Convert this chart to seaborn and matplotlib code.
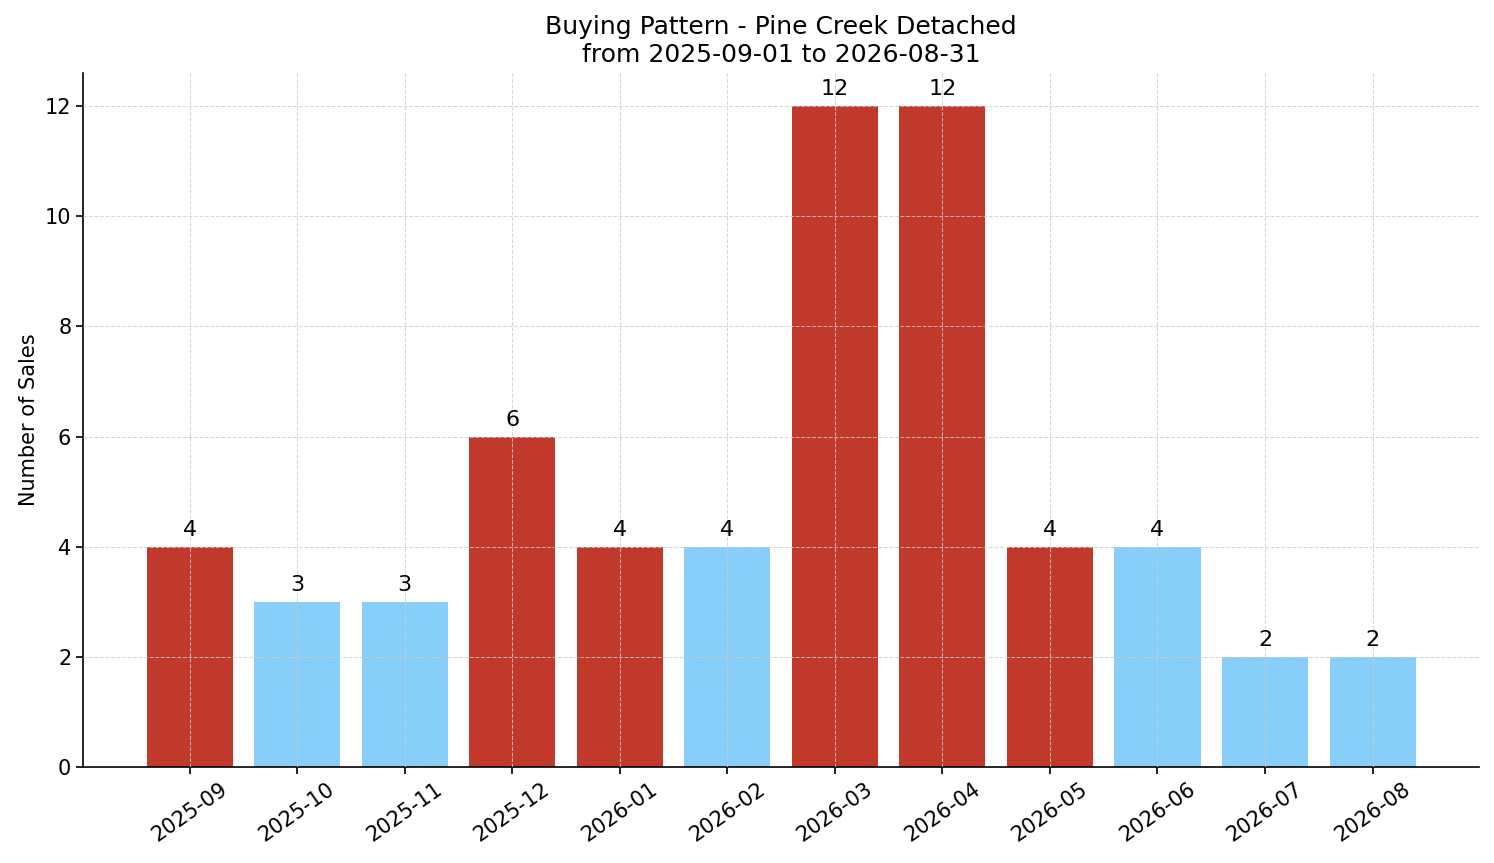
import matplotlib
matplotlib.use('Agg')
import matplotlib.pyplot as plt
import pandas as pd
import seaborn as sns

months = ['2025-09', '2025-10', '2025-11', '2025-12', '2026-01', '2026-02',
          '2026-03', '2026-04', '2026-05', '2026-06', '2026-07', '2026-08']
sales = [4, 3, 3, 6, 4, 4, 12, 12, 4, 4, 2, 2]
bar_colors = ['#C0392B', '#87CEFA', '#87CEFA', '#C0392B', '#C0392B', '#87CEFA',
              '#C0392B', '#C0392B', '#C0392B', '#87CEFA', '#87CEFA', '#87CEFA']

df = pd.DataFrame({'month': months, 'sales': sales})

sns.set_style('white')
plt.rcParams['font.family'] = ['DejaVu Sans']
plt.rcParams['text.color'] = 'black'
plt.rcParams['axes.labelcolor'] = 'black'
plt.rcParams['xtick.color'] = 'black'
plt.rcParams['ytick.color'] = 'black'

fig, ax = plt.subplots(figsize=(14.94, 8.63), dpi=100)
sns.barplot(data=df, x='month', y='sales', hue='month', palette=bar_colors,
            legend=False, width=0.8, saturation=1, linewidth=0, ax=ax)

for i, v in enumerate(sales):
    ax.annotate(str(v), (i, v), xytext=(0, 5), textcoords='offset points',
                ha='center', va='bottom', fontsize=16, color='black')

ax.set_xlim(-0.99, 11.99)
ax.set_ylim(0, 12.6)
ax.grid(True, linestyle='--', color='#cccccc', linewidth=0.75, alpha=0.8)
ax.set_axisbelow(False)
ax.set_xlabel('')
ax.set_ylabel('Number of Sales', fontsize=15, color='black')
ax.set_title('Buying Pattern - Pine Creek Detached\nfrom 2025-09-01 to 2026-08-31',
             fontsize=18, color='black', pad=8)
ax.tick_params(axis='both', labelsize=15, length=5, width=1.2, bottom=True, left=True,
               colors='black')
plt.setp(ax.get_xticklabels(), rotation=35, ha='center')
sns.despine(ax=ax)
for s in ['left', 'bottom']:
    ax.spines[s].set_linewidth(1.2)
    ax.spines[s].set_color('black')

fig.subplots_adjust(left=0.0556, right=0.99, top=0.9154, bottom=0.111)
fig.savefig('out.png', dpi=100)
